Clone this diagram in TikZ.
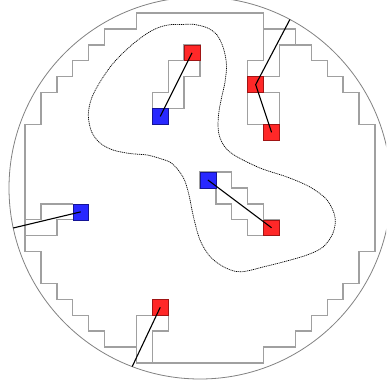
\documentclass[tikz,border=0pt]{standalone}
\usetikzlibrary{calc}
\definecolor{gridgray}{RGB}{160,160,160}
\definecolor{circgray}{RGB}{130,130,130}
\definecolor{sqred}{RGB}{255,40,40}
\definecolor{sqredline}{RGB}{160,20,20}
\definecolor{sqblue}{RGB}{40,40,255}
\definecolor{sqblueline}{RGB}{20,20,150}
\tikzset{
  wall/.style={draw=gridgray, line width=1.3pt, line join=miter},
  rim/.style={draw=circgray, line width=0.8pt},
  redsq/.style={rectangle, fill=sqred, draw=sqredline, line width=0.6pt, minimum size=15.9pt, inner sep=0pt},
  bluesq/.style={rectangle, fill=sqblue, draw=sqblueline, line width=0.6pt, minimum size=15.9pt, inner sep=0pt},
  link/.style={draw=black, line width=1.1pt},
  contour/.style={draw=black, line width=0.7pt, dash pattern=on 1.1pt off 0.8pt}
}
\begin{document}
\begin{tikzpicture}[x=1pt, y=-1pt]
\useasboundingbox (0,0) rectangle (386,387);
\clip (0,0) rectangle (386,387);
\fill[white] (0,0) rectangle (386,387);
% outer circle
\draw[rim] (200,188) circle (191);
% free ends on the circle
\coordinate (ctr) at (289.9,19.5);
\coordinate (cl) at (13.2,228);
\coordinate (cb) at (132.2,366.6);
\begin{scope}[shift={(25.1pt,-13.1pt)}, x=15.9pt, y=-15.9pt]
% staircase region
\draw[wall] (7,0)--(15,0)--(15,1)--(17,1)--(17,2)--(18,2)--(18,3)--(19,3)--(19,4)--(20,4)--(20,5)--(21,5)--(21,7)--(22,7)
  --(22,15)--(21,15)--(21,17)--(20,17)--(20,18)--(19,18)--(19,19)--(18,19)--(18,20)--(17,20)--(17,21)--(15,21)--(15,22)
  --(7,22)--(7,21)--(5,21)--(5,20)--(4,20)--(4,19)--(3,19)--(3,18)--(2,18)--(2,17)--(1,17)--(1,15)--(0,15)
  --(0,7)--(1,7)--(1,5)--(2,5)--(2,4)--(3,4)--(3,3)--(4,3)--(4,2)--(5,2)--(5,1)--(7,1)--cycle;
% top right corridor
\draw[wall] (15,1)--(15,3)--(14,3)--(14,7)--(15,7);
\draw[wall] (17,2)--(16,2)--(16,4)--(15,4);
\draw[wall] (15,5)--(16,5)--(16,7);
% top centre chain
\draw[wall] (10,2)--(11,2)--(11,4)--(10,4)--(10,6)--(9,6)--(9,7)--(8,7)--(8,5)--(9,5)--(9,3)--(10,3)--cycle;
% middle chain
\draw[wall] (11,10)--(13,10)--(13,11)--(14,11)--(14,12)--(15,12)--(15,13)--(16,13)--(16,14)--(14,14)--(14,13)--(13,13)--(13,12)--(12,12)--(12,11)--(11,11)--cycle;
% left notch
\draw[wall] (0,13)--(1,13)--(1,12)--(3,12);
\draw[wall] (3,13)--(2,13)--(2,14)--(0,14);
% bottom corridor
\draw[wall] (7,21)--(7,19)--(8,19);
\draw[wall] (9,19)--(9,20)--(8,20)--(8,22);
% squares
\node[redsq] (ra) at (10.5,2.5) {};
\node[bluesq] (ba) at (8.5,6.5) {};
\node[redsq] (rb) at (14.5,4.5) {};
\node[redsq] (rc) at (15.5,7.5) {};
\node[bluesq] (bb) at (11.5,10.5) {};
\node[redsq] (rd) at (15.5,13.5) {};
\node[bluesq] (bc) at (3.5,12.5) {};
\node[redsq] (re) at (8.5,18.5) {};
\end{scope}
% dotted contour
\draw[contour] plot[smooth cycle, tension=0.55] coordinates {
(193,24.3) (207,27.7) (217,35) (223.5,48.5) (226.5,65) (225,82) (221.5,98) (218.5,115) (218.5,132) (223.5,145) (234,155)
(260,168) (287,177) (310,187) (327,200) (335,217) (333,233) (323,247) (307,255) (283,262) (263,267) (247,271) (236,271.5)
(223,266.5) (210,256.5) (200,240) (193.5,217) (188.5,193) (183,177) (172,163.5) (160,158.5) (147,155) (130,153.5) (113,150)
(100,143) (91.5,131.5) (88.3,115) (91.5,98.5) (100,82) (113,63.5) (130,46.5) (147,33.5) (160,27) (172,24.5) (182,24.5)};
% connectors
\draw[link] (ba.center) -- (ra.center);
\draw[link] (ctr) -- (rb.center) -- (rc.center);
\draw[link] (bb.center) -- (rd.center);
\draw[link] (cl) -- (bc.center);
\draw[link] (re.center) -- (cb);
\end{tikzpicture}
\end{document}
